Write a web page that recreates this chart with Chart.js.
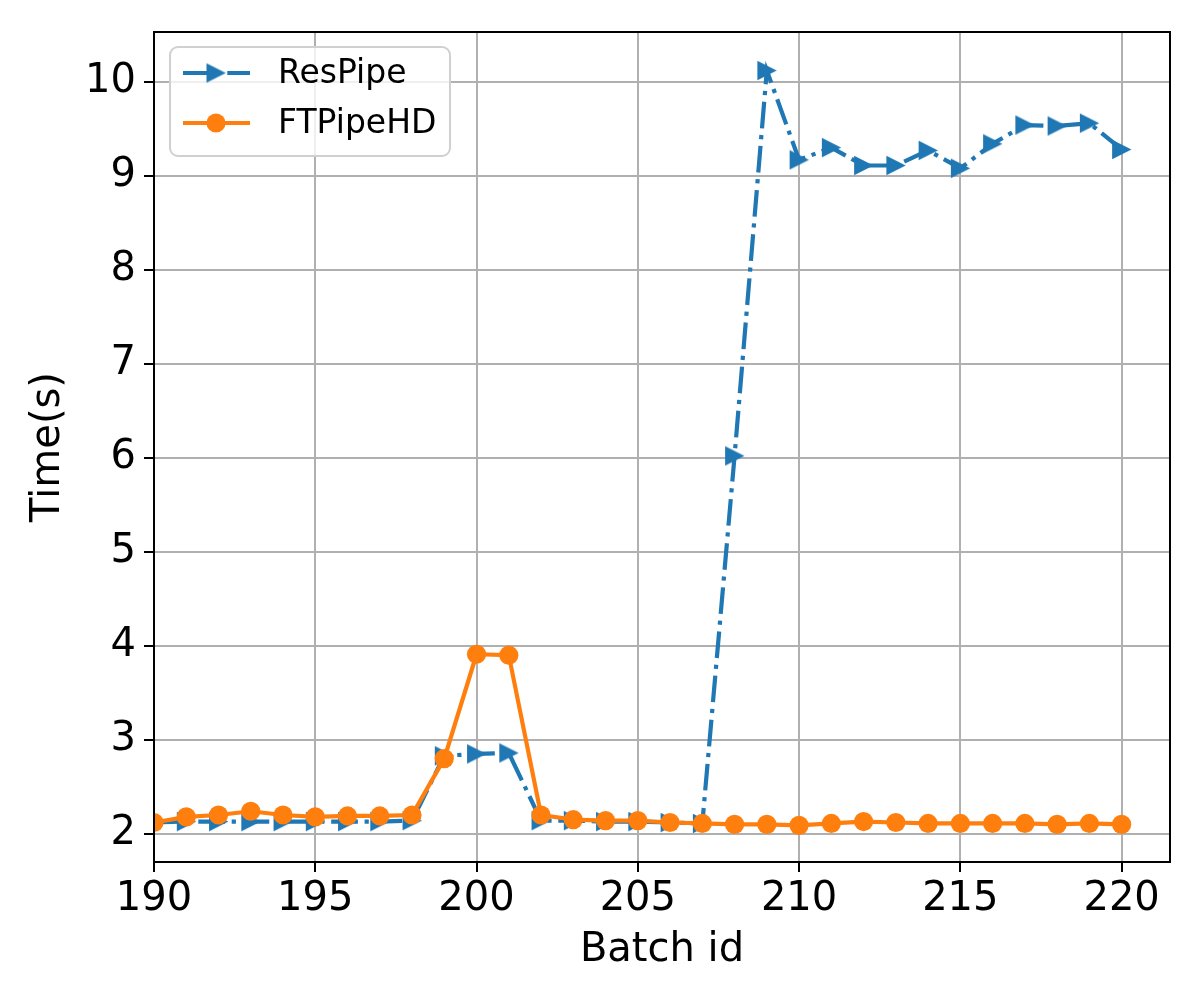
<!DOCTYPE html>
<html><head><meta charset="utf-8">
<script src="https://cdn.jsdelivr.net/npm/chart.js@4.4.1/dist/chart.umd.min.js"></script>
<style>html,body{margin:0;padding:0;background:#fff}canvas{display:block}</style>
</head><body>
<canvas id="c" width="1200" height="1000"></canvas>
<script>
// ---- data ----
const batchIds = [190,191,192,193,194,195,196,197,198,199,200,201,202,203,204,205,206,207,208,209,210,211,212,213,214,215,216,217,218,219,220];
const resPipe  = [2.12,2.13,2.13,2.13,2.13,2.13,2.13,2.13,2.14,2.83,2.85,2.86,2.14,2.14,2.13,2.13,2.12,2.11,6.02,10.12,9.17,9.30,9.11,9.11,9.27,9.08,9.34,9.54,9.53,9.56,9.28];
const ftPipeHD = [2.12,2.18,2.20,2.24,2.20,2.18,2.19,2.19,2.20,2.80,3.91,3.90,2.20,2.15,2.14,2.14,2.12,2.11,2.10,2.10,2.09,2.11,2.13,2.12,2.11,2.11,2.11,2.11,2.10,2.11,2.10];
const seriesNames = ['ResPipe','FTPipeHD'];
const xTickValues = [190,195,200,205,210,215,220];
const yTickValues = [2,3,4,5,6,7,8,9,10];

const BLUE = '#1f77b4', ORANGE = '#ff7f0e';
const FONT = 'DejaVu Sans';

const toPts = (ys) => batchIds.map((x, i) => ({x: x, y: ys[i]}));

// matplotlib-like right-pointing triangle marker
function makeTriangle(color) {
  const c = document.createElement('canvas');
  c.width = 21; c.height = 21;
  const g = c.getContext('2d');
  g.fillStyle = color;
  g.beginPath();
  g.moveTo(1, 0.8);
  g.lineTo(20.3, 10.5);
  g.lineTo(1, 20.2);
  g.closePath();
  g.fill();
  return c;
}
const triMarker = makeTriangle(BLUE);

const frameAndLegend = {
  id: 'frameAndLegend',
  afterDatasetsDraw(chart) {
    const {ctx, chartArea: a} = chart;
    ctx.save();
    ctx.strokeStyle = '#000';
    ctx.lineWidth = 2;
    ctx.strokeRect(a.left, a.top, a.right - a.left, a.bottom - a.top);

    const bx = 170, by = 47, bw = 280, bh = 109, r = 8;
    ctx.beginPath();
    ctx.moveTo(bx + r, by);
    ctx.arcTo(bx + bw, by, bx + bw, by + bh, r);
    ctx.arcTo(bx + bw, by + bh, bx, by + bh, r);
    ctx.arcTo(bx, by + bh, bx, by, r);
    ctx.arcTo(bx, by, bx + bw, by, r);
    ctx.closePath();
    ctx.fillStyle = 'rgba(255,255,255,0.8)';
    ctx.fill();
    ctx.strokeStyle = '#d0d0d0';
    ctx.lineWidth = 2;
    ctx.stroke();

    const rows = [73, 123];
    chart.data.datasets.forEach((ds, i) => {
      const y = rows[i];
      ctx.strokeStyle = ds.borderColor;
      ctx.lineWidth = 4.2;
      ctx.setLineDash(ds.borderDash || []);
      ctx.beginPath();
      ctx.moveTo(183, y);
      ctx.lineTo(250, y);
      ctx.stroke();
      ctx.setLineDash([]);
      ctx.fillStyle = ds.backgroundColor;
      Chart.helpers.drawPoint(ctx, {
        pointStyle: ds.pointStyle,
        rotation: 0,
        radius: ds.pointRadius,
        borderWidth: 0
      }, 216, y);
      ctx.fillStyle = '#000';
      ctx.font = '33px "' + FONT + '"';
      ctx.textBaseline = 'middle';
      ctx.textAlign = 'left';
      ctx.fillText(ds.label, 278, y + 1);
    });
    ctx.restore();
  }
};

new Chart(document.getElementById('c'), {
  type: 'line',
  data: {
    datasets: [
      {
        label: seriesNames[0],
        data: toPts(resPipe),
        borderColor: BLUE,
        backgroundColor: BLUE,
        borderWidth: 4.2,
        borderDash: [26.7, 6.7, 4.2, 6.7],
        pointStyle: triMarker,
        pointRadius: 10,
        pointBorderWidth: 0,
        pointBackgroundColor: BLUE,
        tension: 0,
        order: 1
      },
      {
        label: seriesNames[1],
        data: toPts(ftPipeHD),
        borderColor: ORANGE,
        backgroundColor: ORANGE,
        borderWidth: 4.2,
        pointStyle: 'circle',
        pointRadius: 9.6,
        pointBorderWidth: 0,
        pointBackgroundColor: ORANGE,
        tension: 0,
        order: 0
      }
    ]
  },
  options: {
    responsive: false,
    animation: false,
    devicePixelRatio: 1,
    layout: {padding: {top: 30, right: 30, left: 0, bottom: 0}},
    plugins: {legend: {display: false}, tooltip: {enabled: false}},
    scales: {
      x: {
        type: 'linear',
        min: 190,
        max: 221.5,
        afterFit: (s) => { s.height = 138; },
        afterBuildTicks: (s) => { s.ticks = xTickValues.map(v => ({value: v})); },
        ticks: {
          font: {family: FONT, size: 40},
          color: '#000',
          padding: 4,
          maxRotation: 0,
          autoSkip: false,
          callback: (v) => String(v)
        },
        grid: {color: '#b0b0b0', lineWidth: 2, tickLength: 10, tickColor: '#000', tickWidth: 2},
        border: {color: '#000', width: 2},
        title: {display: true, text: 'Batch id', font: {family: FONT, size: 40}, color: '#000', padding: {top: 0, bottom: 25}}
      },
      y: {
        type: 'linear',
        min: 1.70,
        max: 10.53,
        afterFit: (s) => { s.width = 154; },
        afterBuildTicks: (s) => { s.ticks = yTickValues.map(v => ({value: v})); },
        ticks: {
          font: {family: FONT, size: 40},
          color: '#000',
          padding: 8,
          autoSkip: false,
          callback: (v) => String(v)
        },
        grid: {color: '#b0b0b0', lineWidth: 2, tickLength: 10, tickColor: '#000', tickWidth: 2},
        border: {color: '#000', width: 2},
        title: {display: true, text: 'Time(s)', font: {family: FONT, size: 40}, color: '#000', padding: {top: 25, bottom: 0}}
      }
    }
  },
  plugins: [frameAndLegend]
});
</script>
</body></html>
